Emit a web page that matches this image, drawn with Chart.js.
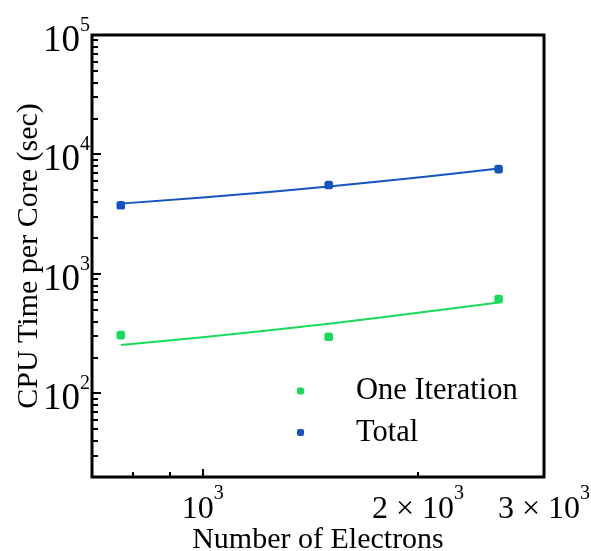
<!DOCTYPE html>
<html>
<head>
<meta charset="utf-8">
<script src="https://cdn.jsdelivr.net/npm/chart.js@4.4.1/dist/chart.umd.min.js"></script>
<style>
  html, body { margin: 0; padding: 0; background: #fff; }
  #wrap { width: 591px; height: 551px; position: relative; }
</style>
</head>
<body>
<div id="wrap"><canvas id="c"></canvas></div>
<script>
// measured points
const nElectrons = [768, 1500, 2592];
const oneIteration = [308, 298, 616];
const total = [3760, 5560, 7540];

// fitted curves
const fitN = [768, 1000, 1250, 1500, 1750, 2000, 2300, 2592];
const fitOneIteration = [254, 295, 340, 384, 429, 473, 526, 578];
const fitTotal = [3880, 4360, 4880, 5390, 5910, 6420, 7040, 7640];

// axis ticks
const xMajor = [1000];
const xMinor = [700, 800, 900, 2000, 3000];
const xLabels = [[1000, "", "3"], [2000, "2 \u00d7 ", "3"], [3000, "3 \u00d7 ", "3"]];
const yMajor = [100, 1000, 10000, 100000];
const yMinor = [20, 30, 40, 50, 60, 70, 80, 90, 200, 300, 400, 500, 600, 700, 800, 900,
  2000, 3000, 4000, 5000, 6000, 7000, 8000, 9000, 20000, 30000, 40000, 50000, 60000, 70000, 80000, 90000];
const yLabels = [[100, "2"], [1000, "3"], [10000, "4"], [100000, "5"]];

const GREEN = "#17dc5a";
const BLUE = "#1553c0";
const SERIF = "'Liberation Serif', 'Times New Roman', serif";

const pts = (xs, ys) => xs.map((x, i) => ({ x, y: ys[i] }));

const framePlugin = {
  id: "frame",
  afterDraw(chart) {
    const ctx = chart.ctx;
    const { left, right, top, bottom } = chart.chartArea;
    const xs = chart.scales.x, ys = chart.scales.y;
    ctx.save();
    ctx.fillStyle = "#000";
    ctx.strokeStyle = "#000";

    // inward ticks
    ctx.lineWidth = 2;
    const tickY = (v, len) => {
      const y = Math.round(ys.getPixelForValue(v));
      ctx.beginPath(); ctx.moveTo(left, y); ctx.lineTo(left + len, y); ctx.stroke();
    };
    const tickX = (v, len) => {
      const x = Math.round(xs.getPixelForValue(v));
      ctx.beginPath(); ctx.moveTo(x, bottom); ctx.lineTo(x, bottom - len); ctx.stroke();
    };
    yMajor.forEach(v => tickY(v, 9));
    yMinor.forEach(v => tickY(v, 6));
    xMajor.forEach(v => tickX(v, 8));
    xMinor.forEach(v => tickX(v, 5));

    // frame
    ctx.lineWidth = 3;
    ctx.strokeRect(left, top, right - left, bottom - top);

    // y tick labels 10^n
    ctx.textBaseline = "alphabetic";
    yLabels.forEach(([v, exp]) => {
      const y = ys.getPixelForValue(v);
      ctx.font = "20px " + SERIF;
      const ew = ctx.measureText(exp).width;
      ctx.textAlign = "right";
      ctx.fillText(exp, left - 2, y - 4);
      ctx.font = "37px " + SERIF;
      ctx.fillText("10", left - 2 - ew, y + 16);
    });

    // x tick labels
    xLabels.forEach(([v, pre, exp]) => {
      const x = xs.getPixelForValue(v);
      ctx.font = "32px " + SERIF;
      const base = pre + "10";
      const bw = ctx.measureText(base).width;
      ctx.font = "20px " + SERIF;
      const ew = ctx.measureText(exp).width;
      const x0 = x - (bw + ew) / 2;
      ctx.textAlign = "left";
      ctx.font = "32px " + SERIF;
      ctx.fillText(base, x0, bottom + 41);
      ctx.font = "20px " + SERIF;
      ctx.fillText(exp, x0 + bw, bottom + 22);
    });

    // axis titles
    ctx.font = "30px " + SERIF;
    ctx.textAlign = "center";
    ctx.fillText("Number of Electrons", (left + right) / 2, 548);
    ctx.save();
    ctx.translate(37, (top + bottom) / 2);
    ctx.rotate(-Math.PI / 2);
    ctx.fillText("CPU Time per Core (sec)", 0, 0);
    ctx.restore();

    // legend
    const items = chart.data.datasets.filter(d => d.inLegend);
    items.forEach((d, i) => {
      const cy = 391 + i * 41.5;
      ctx.fillStyle = d.backgroundColor;
      ctx.beginPath();
      ctx.roundRect(297, cy - 3.5, 7, 7, 2);
      ctx.fill();
      ctx.fillStyle = "#000";
      ctx.textAlign = "left";
      ctx.font = "30.5px " + SERIF;
      ctx.fillText(d.label, 356, cy + 8);
    });
    ctx.restore();
  }
};

new Chart(document.getElementById("c"), {
  type: "scatter",
  data: {
    datasets: [
      { label: "One Iteration", inLegend: true, data: pts(nElectrons, oneIteration),
        backgroundColor: GREEN, borderColor: GREEN, pointStyle: "rectRounded", pointRadius: 5, pointBorderWidth: 0 },
      { label: "Total", inLegend: true, data: pts(nElectrons, total),
        backgroundColor: BLUE, borderColor: BLUE, pointStyle: "rectRounded", pointRadius: 5, pointBorderWidth: 0 },
      { label: "One Iteration fit", data: pts(fitN, fitOneIteration), showLine: true,
        borderColor: GREEN, backgroundColor: GREEN, borderWidth: 2, pointRadius: 0 },
      { label: "Total fit", data: pts(fitN, fitTotal), showLine: true,
        borderColor: BLUE, backgroundColor: BLUE, borderWidth: 2, pointRadius: 0 },
    ],
  },
  options: {
    responsive: true,
    maintainAspectRatio: false,
    animation: false,
    layout: { padding: { left: 0, right: 47, top: 35, bottom: 0 } },
    plugins: { legend: { display: false }, tooltip: { enabled: false } },
    scales: {
      x: {
        type: "logarithmic", min: 700, max: 3000,
        grid: { display: false }, border: { display: false },
        ticks: { display: false },
        afterFit: (s) => { s.height = 74; },
      },
      y: {
        type: "logarithmic", min: 20, max: 100000,
        grid: { display: false }, border: { display: false },
        ticks: { display: false },
        afterFit: (s) => { s.width = 92; },
      },
    },
  },
  plugins: [framePlugin],
});
</script>
</body>
</html>
